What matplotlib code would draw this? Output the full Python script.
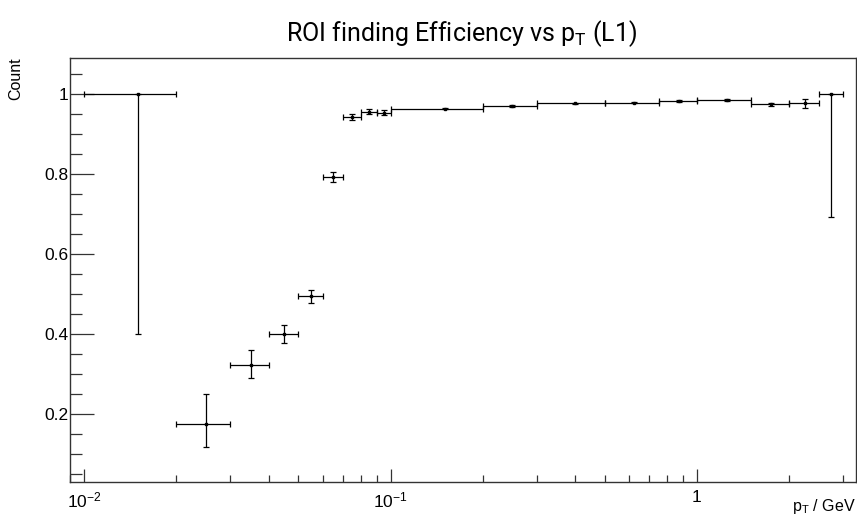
import numpy as np
import matplotlib
matplotlib.use('Agg')
from matplotlib import pyplot as plt
from matplotlib.ticker import LogLocator, FixedLocator, NullFormatter, FuncFormatter

# ########################## DANE ########################## #
bin_lo = [0.01, 0.02, 0.03, 0.04, 0.05, 0.06, 0.07, 0.08, 0.09, 0.1,
          0.2, 0.3, 0.5, 0.75, 1.0, 1.5, 2.0, 2.5]
bin_hi = [0.02, 0.03, 0.04, 0.05, 0.06, 0.07, 0.08, 0.09, 0.1, 0.2,
          0.3, 0.5, 0.75, 1.0, 1.5, 2.0, 2.5, 3.0]
eff = [1.0, 0.175, 0.3225, 0.399, 0.493, 0.791, 0.941, 0.955, 0.9525, 0.9625,
       0.969, 0.976, 0.9775, 0.981, 0.984, 0.973, 0.9767, 1.0]
err_lo = [0.6, 0.058, 0.0335, 0.022, 0.017, 0.013, 0.008, 0.007, 0.0065, 0.002,
          0.002, 0.001, 0.001, 0.002, 0.002, 0.005, 0.014, 0.3075]
err_hi = [0.0, 0.074, 0.0365, 0.023, 0.016, 0.014, 0.007, 0.0075, 0.0075, 0.002,
          0.002, 0.001, 0.001, 0.002, 0.002, 0.0045, 0.010, 0.0]

lo = np.array(bin_lo)
hi = np.array(bin_hi)
x = (lo + hi) / 2

plt.rcParams['font.family'] = ['Liberation Sans', 'DejaVu Sans']

# ########################## RYSUNEK ########################## #
fig = plt.figure(figsize=(8.57, 5.21), dpi=100)
ax = fig.add_axes([0.082, 0.0754, 0.9165, 0.8142])

ax.errorbar(x, eff, xerr=[x - lo, hi - x], yerr=[err_lo, err_hi],
            fmt='s', ms=1.8, color='black', ecolor='black', elinewidth=0.9,
            capsize=2.2, capthick=0.9, lw=0)

ax.set_xscale('log')
ax.set_xlim(0.009, 3.3)
ax.set_ylim(0.03, 1.09)

# osie w stylu ROOT
ax.xaxis.set_major_locator(LogLocator(base=10, numticks=10))
ax.xaxis.set_minor_locator(LogLocator(base=10, subs=np.arange(2, 10), numticks=10))
ax.xaxis.set_minor_formatter(NullFormatter())

def fmt_x(v, pos):
    if abs(v - 1) < 1e-9:
        return '1'
    return r'$\mathregular{10^{%d}}$' % round(np.log10(v))

ax.xaxis.set_major_formatter(FuncFormatter(fmt_x))
ax.yaxis.set_major_locator(FixedLocator([0.2, 0.4, 0.6, 0.8, 1.0]))
ax.yaxis.set_minor_locator(FixedLocator(np.arange(0.05, 1.09, 0.05)))
ax.yaxis.set_major_formatter(FuncFormatter(lambda v, p: '%g' % v))

ax.tick_params(axis='both', which='both', direction='in', color='#333333',
               labelsize=12.5, width=0.9)
ax.tick_params(axis='y', which='major', length=17.3, pad=1.5)
ax.tick_params(axis='y', which='minor', length=8.6)
ax.tick_params(axis='x', which='major', length=9.5, pad=6)
ax.tick_params(axis='x', which='minor', length=4.8)

for s in ax.spines.values():
    s.set_linewidth(1.0)
    s.set_color('#333333')

ax.set_ylabel('Count', fontsize=11.5, va='center', ha='right')
ax.yaxis.set_label_coords(-0.07, 1.0)

ax.set_xlabel(r'$\mathregular{p_{T}}$ / GeV', fontsize=11.5, va='baseline', ha='right')
ax.xaxis.set_label_coords(1.0, -0.068)

fig.text(0.539, 0.922, r'ROI finding Efficiency vs $\mathregular{p_{T}}$ (L1)',
         ha='center', va='baseline', fontsize=18,
         family=['Roboto', 'DejaVu Sans'])

fig.savefig('out.png', dpi=100)
